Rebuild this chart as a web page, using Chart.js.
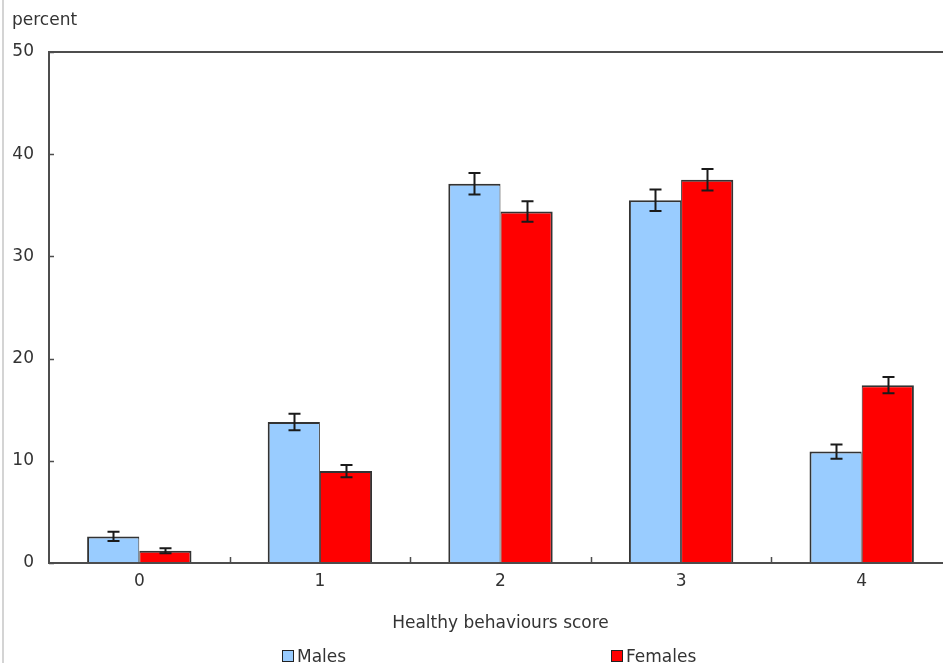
<!DOCTYPE html>
<html>
<head>
<meta charset="utf-8">
<script src="https://cdn.jsdelivr.net/npm/chart.js@4.4.1/dist/chart.umd.min.js"></script>
<style>
    html, body { margin: 0; padding: 0; background: #fff; overflow: hidden; }
    body { width: 943px; height: 663px; position: relative; font-family: "DejaVu Sans", sans-serif; color: #333; }
    .frame-left { position: absolute; left: 2px; top: 0; width: 2px; height: 663px; background: #d4d4d4; }
    .wrap { position: absolute; left: 0; top: 0; width: 960px; height: 663px; }
    .unit { position: absolute; left: 12px; top: 9px; font-size: 17px; }
    .legend-item { position: absolute; top: 647px; font-size: 17px; line-height: 19px; }
    .legend-item span.box { display: inline-block; width: 10px; height: 10px; border: 1px solid #222; margin-right: 3px; vertical-align: 0px; }
</style>
</head>
<body>
<div class="frame-left"></div>
<div class="wrap"><canvas id="chart" width="960" height="663"></canvas></div>
<div class="unit">percent</div>
<div class="legend-item" style="left:282px;"><span class="box" style="background:#99ccff;"></span>Males</div>
<div class="legend-item" style="left:611px;"><span class="box" style="background:#ff0000;"></span>Females</div>

<script>
// ===============================
// DATA
// ===============================
const categories = ["0", "1", "2", "3", "4"];
const males = [2.6, 13.8, 37.1, 35.5, 10.9];
const females = [1.2, 9.0, 34.4, 37.5, 17.4];
const malesErr = [0.45, 0.8, 1.05, 1.05, 0.7];
const femalesErr = [0.25, 0.6, 1.0, 1.05, 0.8];
const yTicks = [0, 10, 20, 30, 40, 50];

// ===============================
// PLUGINS
// ===============================
// error bars, drawn from the bar elements and the y scale
const errorBars = {
    id: "errorBars",
    afterDatasetsDraw(chart) {
        const ctx = chart.ctx;
        const y = chart.scales.y;
        const errs = [malesErr, femalesErr];
        ctx.save();
        ctx.strokeStyle = "#1a1a1a";
        ctx.lineWidth = 2;
        chart.data.datasets.forEach((ds, i) => {
            chart.getDatasetMeta(i).data.forEach((bar, j) => {
                const v = ds.data[j];
                const e = errs[i][j];
                const top = y.getPixelForValue(v + e);
                const bot = y.getPixelForValue(v - e);
                const x = Math.round(bar.x) + 0.5;
                ctx.beginPath();
                ctx.moveTo(x, top); ctx.lineTo(x, bot);
                ctx.moveTo(x - 6, top); ctx.lineTo(x + 6, top);
                ctx.moveTo(x - 6, bot); ctx.lineTo(x + 6, bot);
                ctx.stroke();
            });
        });
        ctx.restore();
    }
};

// frame, axis lines and the small inward tick marks
const frame = {
    id: "frame",
    afterDraw(chart) {
        const ctx = chart.ctx;
        const a = chart.chartArea;
        const x = chart.scales.x;
        const y = chart.scales.y;
        ctx.save();
        ctx.strokeStyle = "#4d4d4d";
        ctx.lineWidth = 2;
        ctx.strokeRect(a.left, a.top, a.right - a.left, a.bottom - a.top);

        ctx.lineWidth = 1.5;
        ctx.beginPath();
        yTicks.forEach(t => {
            const py = Math.round(y.getPixelForValue(t)) + 0.5;
            ctx.moveTo(a.left, py); ctx.lineTo(a.left + 5, py);
        });
        for (let i = 1; i < categories.length; i++) {
            const px = Math.round((x.getPixelForValue(i - 1) + x.getPixelForValue(i)) / 2) + 0.5;
            ctx.moveTo(px, a.bottom); ctx.lineTo(px, a.bottom - 6);
        }
        ctx.stroke();
        ctx.restore();
    }
};

// ===============================
// CHART
// ===============================
const fontMain = { family: "DejaVu Sans, sans-serif", size: 17 };

new Chart(document.getElementById("chart"), {
    type: "bar",
    data: {
        labels: categories,
        datasets: [
            {
                label: "Males",
                data: males,
                backgroundColor: "#99ccff",
                borderColor: "#333",
                borderWidth: { top: 2, left: 2, right: 1, bottom: 0 },
                borderSkipped: false,
                barPercentage: 1,
                categoryPercentage: 0.578
            },
            {
                label: "Females",
                data: females,
                backgroundColor: "#ff0000",
                borderColor: "#333",
                borderWidth: { top: 2, left: 1, right: 2, bottom: 0 },
                borderSkipped: false,
                barPercentage: 1,
                categoryPercentage: 0.578
            }
        ]
    },
    options: {
        responsive: false,
        animation: false,
        layout: { padding: { top: 52, right: 8, left: 0, bottom: 0 } },
        plugins: {
            legend: { display: false },
            tooltip: { enabled: false }
        },
        scales: {
            x: {
                grid: { display: false, drawTicks: false },
                border: { display: false },
                ticks: { color: "#333", font: fontMain, padding: 8 },
                title: {
                    display: true,
                    text: "Healthy behaviours score",
                    color: "#333",
                    font: fontMain,
                    padding: { top: 0, bottom: 29 }
                },
                afterFit(scale) { scale.height = 100; }
            },
            y: {
                min: 0,
                max: 50,
                grid: { display: false, drawTicks: false },
                border: { display: false },
                ticks: { stepSize: 10, color: "#333", font: fontMain, padding: 15 },
                afterFit(scale) { scale.width = 49; }
            }
        }
    },
    plugins: [errorBars, frame]
});
</script>
</body>
</html>
